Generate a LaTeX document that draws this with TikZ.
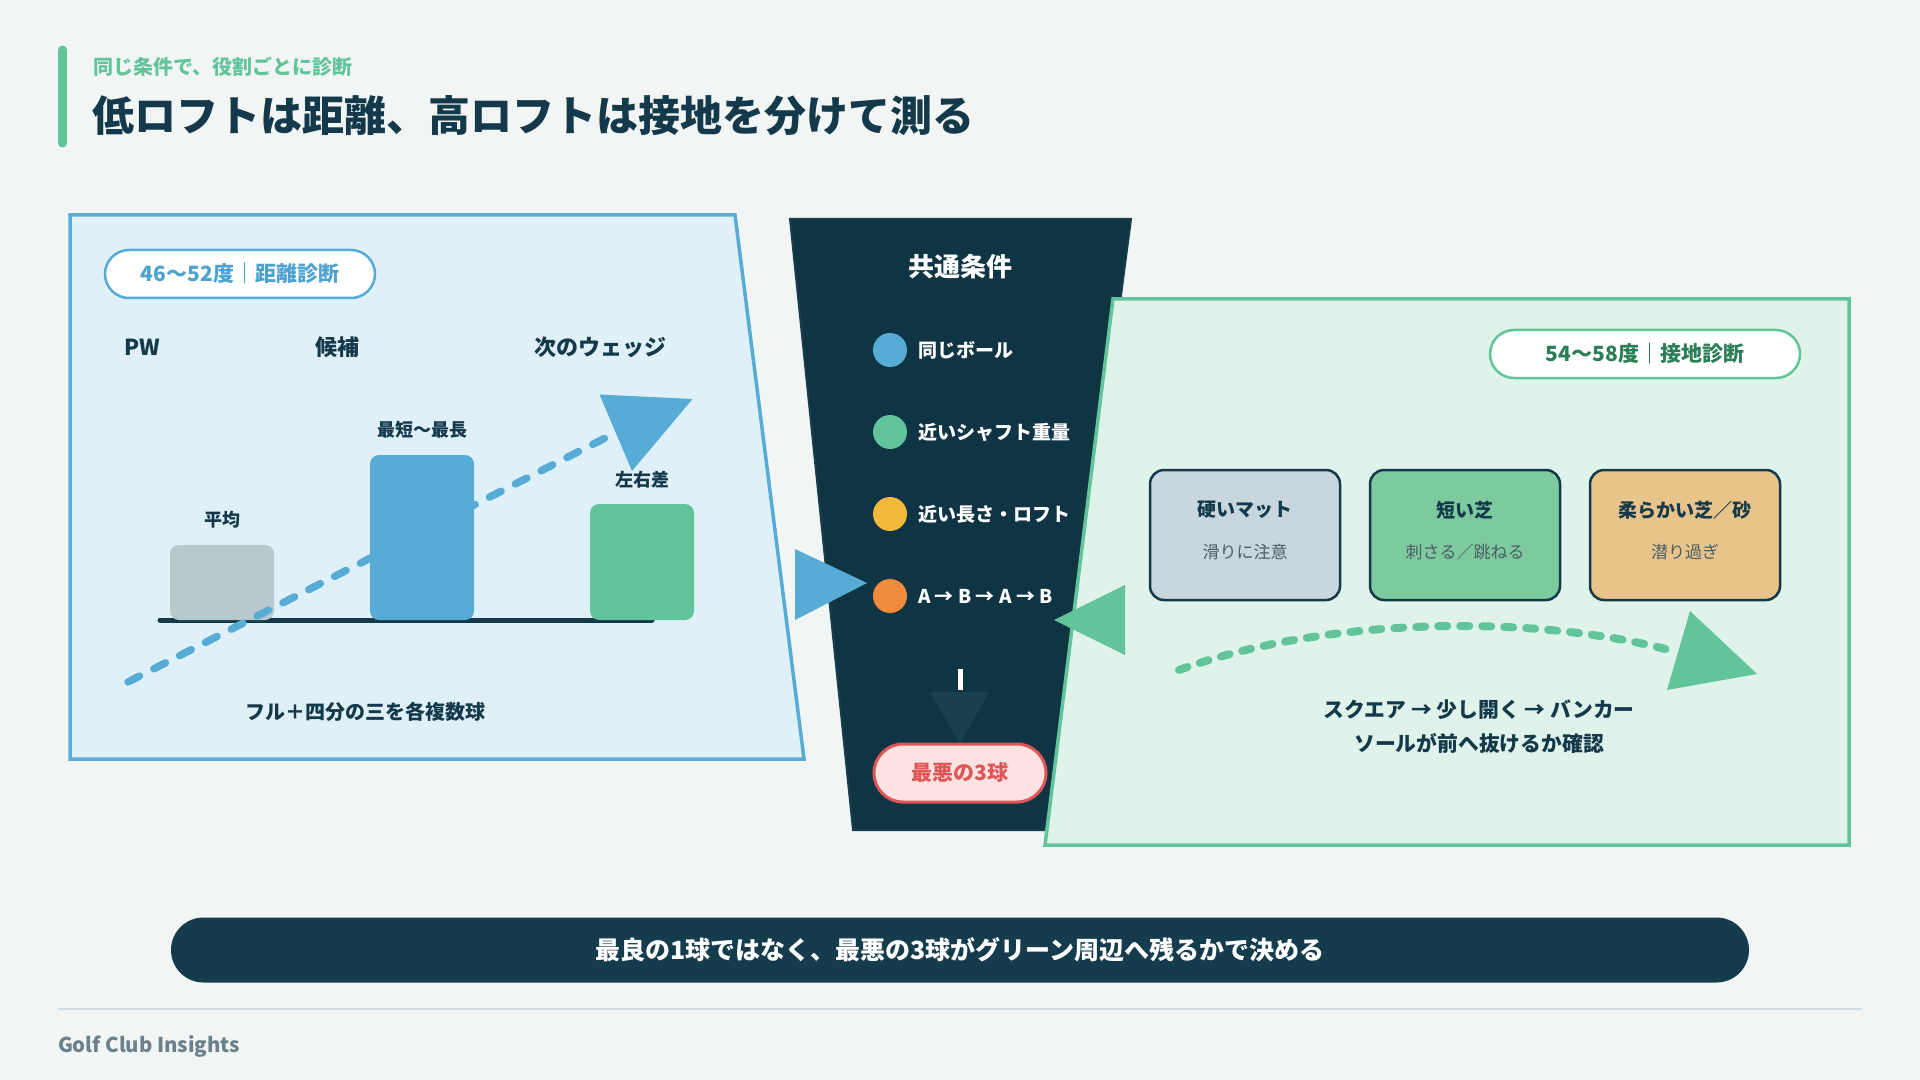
\documentclass[tikz,border=0pt]{standalone}
\usepackage{fontspec}
\setmainfont{Noto Sans CJK JP}
\newcommand\fsz[1]{\fontsize{#1}{#1}\selectfont}
\definecolor{bg}{HTML}{F1F5F4}
\definecolor{accent}{HTML}{62C49A}
\definecolor{cblue}{HTML}{57ACD6}
\definecolor{bluefill}{HTML}{DFF0F8}
\definecolor{greenfill}{HTML}{E0F3EA}
\definecolor{ink}{HTML}{14394A}
\definecolor{funnel}{HTML}{0F3444}
\definecolor{funneledge}{HTML}{183D4C}
\definecolor{barbg}{HTML}{143C4C}
\definecolor{graybar}{HTML}{B9C8CD}
\definecolor{cyellow}{HTML}{F0B93A}
\definecolor{corange}{HTML}{EF8B3A}
\definecolor{pillblue}{HTML}{4DA3D0}
\definecolor{pillgreen}{HTML}{2B7E57}
\definecolor{cred}{HTML}{E05555}
\definecolor{redfill}{HTML}{FDE2E2}
\definecolor{cardA}{HTML}{C8D7DD}
\definecolor{cardB}{HTML}{7DCA9E}
\definecolor{cardC}{HTML}{E8C48A}
\definecolor{subink}{HTML}{4A5E66}
\definecolor{downtri}{HTML}{18404F}
\definecolor{rulecol}{HTML}{CFDDE2}
\definecolor{footink}{HTML}{6B808A}
\begin{document}
\begin{tikzpicture}[x=0.5pt,y=-0.5pt,
  every node/.style={inner sep=0pt, outer sep=0pt},
  lbl/.style={text=ink, font=\fsz{11pt}\bfseries},
  small/.style={text=ink, font=\fsz{9pt}\bfseries},
  cond/.style={anchor=west, text=white, font=\fsz{9.5pt}\bfseries},
  dot/.style={circle, minimum size=17pt},
  pill/.style={draw, fill=white, rounded corners=12pt, line width=1.25pt, minimum height=24pt, font=\fsz{10.5pt}\bfseries},
  card/.style={draw=ink, line width=1.25pt, rounded corners=7pt, minimum width=95pt, minimum height=65pt},
  cardtitle/.style={text=ink, font=\fsz{9.5pt}\bfseries},
  cardsub/.style={text=subink, font=\fsz{8.5pt}},
  bar/.style={rounded corners=4.5pt}
]
\useasboundingbox (0,0) rectangle (1920,1080);
\fill[bg] (0,0) rectangle (1920,1080);

% header
\draw[accent, line width=4.5pt, line cap=round] (62.5,50) -- (62.5,143);
\node[anchor=west, text=accent, font=\fsz{10pt}\bfseries] (sub) at (93,67) {同じ条件で、役割ごとに診断};
\node[anchor=west, text=ink, font=\fsz{21pt}\bfseries] (title) at (92,116) {低ロフトは距離、高ロフトは接地を分けて測る};

% left panel
\filldraw[fill=bluefill, draw=cblue, line width=1.75pt] (70,215) -- (735,215) -- (804,759) -- (70,759) -- cycle;
\node[pill, draw=cblue, text=pillblue, minimum width=135pt] (p1) at (240,274) {46〜52度｜距離診断};
\node[lbl] (pw) at (142,347) {PW};
\node[lbl] (cand) at (337,347) {候補};
\node[lbl] (next) at (600,347) {次のウェッジ};
\draw[ink, line width=2.5pt, line cap=round] (160,620) -- (652,620);
\fill[graybar, bar] (170,545) rectangle (274,620);
\fill[cblue, bar] (370,455) rectangle (474,620);
\fill[accent, bar] (590,504) rectangle (694,620);
\node[small] (avg) at (222,520) {平均};
\node[small] (rng) at (422,430) {最短〜最長};
\node[small] (lr) at (642,480) {左右差};
\coordinate (bs) at (128,682);
\coordinate (be) at (613,434);
\draw[cblue, line width=3.75pt, line cap=round, dash pattern=on 6.5pt off 8pt] (bs) -- (be);
\fill[cblue] (599.5,394.5) -- (692.6,399) -- (632,471) -- cycle;
\node[text=ink, font=\fsz{10pt}\bfseries] (full) at (365,712) {フル＋四分の三を各複数球};

% funnel
\filldraw[fill=funnel, draw=funneledge, line width=1pt] (790,219) -- (1131,219) -- (1051,830) -- (853,830) -- cycle;
\node[text=white, font=\fsz{13pt}\bfseries] (hdr) at (960,267) {共通条件};
\node[dot, fill=cblue] (d1) at (890,350) {};
\node[dot, fill=accent] (d2) at (890,432) {};
\node[dot, fill=cyellow] (d3) at (890,514) {};
\node[dot, fill=corange] (d4) at (890,596) {};
\node[cond] (c1) at (918,350) {同じボール};
\node[cond] (c2) at (918,432) {近いシャフト重量};
\node[cond] (c3) at (918,514) {近い長さ・ロフト};
\node[cond] (c4) at (918,596) {A → B → A → B};
\coordinate (v1) at (960,669);
\coordinate (v2) at (960,690);
\draw[white, line width=2.5pt] (v1) -- (v2);
\fill[downtri] (930,692) -- (989,692) -- (960,744) -- cycle;
\node[pill, draw=cred, fill=redfill, text=cred, line width=1.5pt, minimum width=86pt, minimum height=29pt, rounded corners=14.5pt] (worst) at (960,773) {最悪の3球};

% right panel
\filldraw[fill=greenfill, draw=accent, line width=1.75pt] (1113,299) -- (1849,299) -- (1849,845) -- (1045,845) -- cycle;
\node[pill, draw=accent, text=pillgreen, minimum width=155pt] (p2) at (1645,354) {54〜58度｜接地診断};
\node[card, fill=cardA] (k1) at (1245,535) {};
\node[card, fill=cardB] (k2) at (1465,535) {};
\node[card, fill=cardC] (k3) at (1685,535) {};
\node[cardtitle] (k1t) at (1245,510) {硬いマット};
\node[cardsub] (k1s) at (1245,552) {滑りに注意};
\node[cardtitle] (k2t) at (1465,510) {短い芝};
\node[cardsub] (k2s) at (1465,552) {刺さる／跳ねる};
\node[cardtitle] (k3t) at (1685,510) {柔らかい芝／砂};
\node[cardsub] (k3s) at (1685,552) {潜り過ぎ};
\coordinate (as) at (1179,670);
\coordinate (ae) at (1673,651);
\draw[accent, line width=4pt, line cap=round, dash pattern=on 4.5pt off 6.5pt] (as) .. controls (1330,615) and (1540,615) .. (ae);
\fill[accent] (1690,611) -- (1757,674) -- (1667,690) -- cycle;
\node[text=ink, font=\fsz{10.4pt}\bfseries] (r1) at (1479,710) {スクエア → 少し開く → バンカー};
\node[text=ink, font=\fsz{10.4pt}\bfseries] (r2) at (1479,743) {ソールが前へ抜けるか確認};

% side arrows into funnel
\fill[cblue] (795,549) -- (795,620) -- (867,583) -- cycle;
\fill[accent] (1125,585) -- (1125,655) -- (1054,620) -- cycle;

% bottom bar
\node[fill=barbg, rounded corners=16.25pt, minimum width=789pt, minimum height=32.5pt, text=white, font=\fsz{12.5pt}\bfseries] (verdict) at (960,950) {最良の1球ではなく、最悪の3球がグリーン周辺へ残るかで決める};

% footer
\draw[rulecol, line width=1pt] (58,1009) -- (1862,1009);
\node[anchor=base west, text=footink, font=\fsz{10.2pt}\bfseries] (foot) at (58,1052) {Golf Club Insights};
\end{tikzpicture}
\end{document}
